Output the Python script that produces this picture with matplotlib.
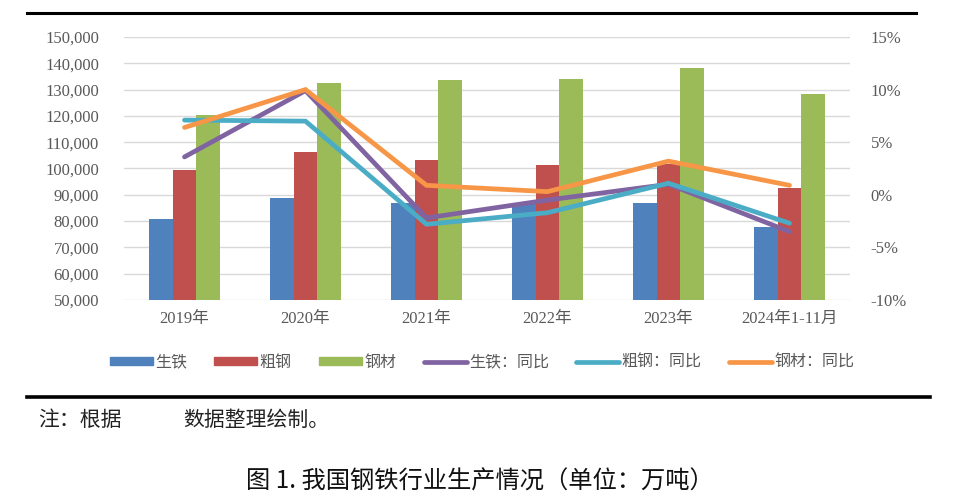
import numpy as np
import matplotlib
matplotlib.use('Agg')
import matplotlib.pyplot as plt
from matplotlib.patches import Patch
from matplotlib.lines import Line2D
from matplotlib.ticker import FuncFormatter

plt.rcParams['font.family'] = ['Liberation Serif', 'Noto Sans CJK SC']

# 数据（万吨，同比%）
categories = ['2019年', '2020年', '2021年', '2022年', '2023年', '2024年1-11月']
pig_iron = [80800, 88700, 86800, 86400, 87000, 77800]
crude_steel = [99600, 106400, 103200, 101300, 101900, 92700]
steel_products = [120400, 132400, 133600, 134000, 138200, 128300]
pig_iron_yoy = [3.6, 9.9, -2.2, -0.5, 1.0, -3.5]
crude_steel_yoy = [7.1, 7.0, -2.8, -1.7, 1.1, -2.7]
steel_products_yoy = [6.4, 10.0, 0.9, 0.3, 3.2, 0.9]

bar_names = ['生铁', '粗钢', '钢材']
line_names = ['生铁：同比', '粗钢：同比', '钢材：同比']
bar_colors = ['#4F81BD', '#C0504D', '#9BBB59']
line_colors = ['#8064A2', '#4BACC6', '#F79646']
gray = '#595959'

fig = plt.figure(figsize=(9.64, 4.99), dpi=100)
ax = fig.add_axes([124 / 964, 1 - 300 / 499, 726 / 964, 263 / 499])
ax2 = ax.twinx()

x = np.arange(len(categories))
w = 0.193
for i, vals in enumerate([pig_iron, crude_steel, steel_products]):
    ax.bar(x + (i - 1) * w, vals, width=w, color=bar_colors[i], zorder=2)

for vals, c in zip([pig_iron_yoy, crude_steel_yoy, steel_products_yoy], line_colors):
    ax2.plot(x, vals, color=c, lw=3.4, solid_capstyle='round',
             solid_joinstyle='miter', zorder=3)

ax.set_xlim(-0.5, len(categories) - 0.5)
ax.set_ylim(50000, 150000)
ax.set_yticks(np.arange(50000, 150001, 10000))
ax.yaxis.set_major_formatter(FuncFormatter(lambda v, p: f'{int(v):,}'))
ax.grid(axis='y', color='#D9D9D9', lw=1, zorder=0)
ax.set_axisbelow(True)
ax2.set_ylim(-10, 15)
ax2.set_yticks(np.arange(-10, 16, 5))
ax2.yaxis.set_major_formatter(FuncFormatter(lambda v, p: f'{int(v)}%'))

ax.set_xticks(x)
ax.set_xticklabels(categories)
for a in (ax, ax2):
    for s in a.spines.values():
        s.set_visible(False)
    a.tick_params(length=0, labelsize=12, colors=gray)
ax.tick_params(axis='y', pad=18)
ax2.tick_params(axis='y', pad=15)
ax.tick_params(axis='x', pad=8)

handles = [Patch(color=c) for c in bar_colors] + \
          [Line2D([0], [0], color=c, lw=3.4, solid_capstyle='round') for c in line_colors]
leg = fig.legend(handles, bar_names + line_names, loc='center',
                 bbox_to_anchor=(0.5, 1 - 362 / 499), ncol=6, frameon=False,
                 handlelength=2.7, handleheight=0.45, handletextpad=0.15,
                 columnspacing=1.7, prop={'family': ['Noto Sans CJK SC'], 'size': 11.5})
for t in leg.get_texts():
    t.set_color(gray)

# 上下黑线
fig.add_artist(Line2D([27 / 964, 916 / 964], [1 - 13 / 499] * 2, color='black', lw=2.2))
fig.add_artist(Line2D([27 / 964, 930 / 964], [1 - 397 / 499] * 2, color='black', lw=2.6))

fig.text(38 / 964, 1 - 420 / 499, '注：根据', family=['Noto Sans CJK SC'],
         fontsize=15, va='center', ha='left', color='#222222')
fig.text(183 / 964, 1 - 420 / 499, '数据整理绘制。', family=['Noto Sans CJK SC'],
         fontsize=15, va='center', ha='left', color='#222222')
fig.text(480 / 964, 1 - 482 / 499, '图 1. 我国钢铁行业生产情况（单位：万吨）',
         family=['Noto Sans CJK SC'], fontsize=17.5, va='center', ha='center',
         color='#111111')

fig.savefig('out.png', dpi=100)
